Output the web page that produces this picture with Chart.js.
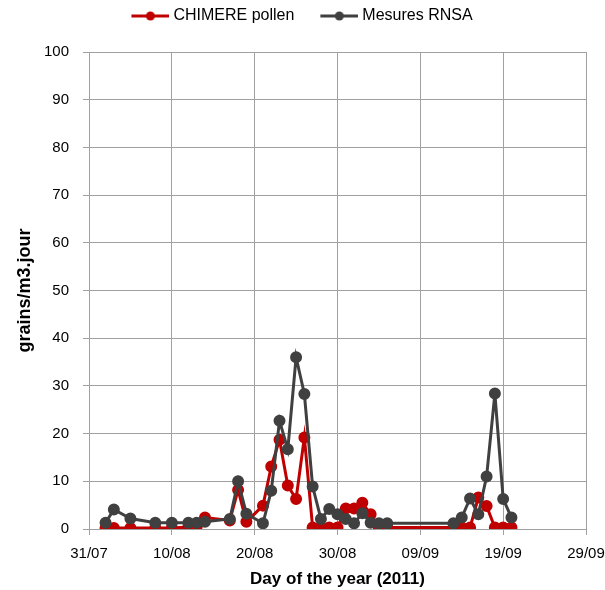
<!DOCTYPE html>
<html>
<head>
<meta charset="utf-8">
<script src="https://cdn.jsdelivr.net/npm/chart.js@4.4.1/dist/chart.umd.min.js"></script>
<style>
	html, body { margin: 0; padding: 0; background: #fff; overflow: hidden; }
	#wrap { width: 605px; height: 590px; }
</style>
</head>
<body>
<div id="wrap"><canvas id="pollenChart" width="605" height="590"></canvas></div>
<script>
// day 0 = 31/07/2011
const days = [2, 3, 5, 8, 10, 12, 13, 14, 17, 18, 19, 21, 22, 23, 24, 25, 26, 27, 28, 29, 30, 31, 32, 33, 34, 35, 36, 44, 45, 46, 47, 48, 49, 50, 51];
const chimereValues = [0.2, 0.2, 0.2, 0.2, 0.2, 0.4, 0.5, 2.4, 1.8, 8.2, 1.5, 4.9, 13.1, 18.7, 9.1, 6.3, 19.2, 0.3, 0.3, 0.3, 0.3, 4.3, 4.3, 5.5, 3.1, 0.3, 0.3, 0.3, 0.3, 0.3, 6.6, 4.8, 0.3, 0.3, 0.3];
const rnsaValues = [1.3, 4.1, 2.2, 1.3, 1.3, 1.3, 1.3, 1.5, 2.1, 10.0, 3.2, 1.2, 8.0, 22.7, 16.7, 36.0, 28.3, 8.9, 2.1, 4.2, 3.1, 2.1, 1.2, 3.3, 1.3, 1.2, 1.2, 1.2, 2.4, 6.4, 3.1, 11.0, 28.4, 6.3, 2.4];
const xTickLabels = ['31/07', '10/08', '20/08', '30/08', '09/09', '19/09', '29/09'];

const RED = '#c00000';
const GREY = '#404040';
const FONT = 'Liberation Sans';

function toPoints(values) {
	return values.map((v, i) => ({ x: days[i], y: v }));
}

// legend icon: a short line with a dot in the middle (blank space on the left)
function makeIcon(color) {
	const c = document.createElement('canvas');
	c.width = 60;
	c.height = 12;
	const g = c.getContext('2d');
	g.strokeStyle = color;
	g.lineWidth = 3;
	g.beginPath();
	g.moveTo(22, 6);
	g.lineTo(60, 6);
	g.stroke();
	g.fillStyle = color;
	g.beginPath();
	g.arc(41, 6, 4.5, 0, Math.PI * 2);
	g.fill();
	return c;
}

// give the legend a fixed height so the plot starts where it should
const legendHeight = {
	id: 'legendHeight',
	beforeInit(chart) {
		const legend = chart.legend;
		if (!legend) return;
		const fit = legend.fit.bind(legend);
		legend.fit = function () {
			fit();
			this.height = 52;
		};
	}
};

const ctx = document.getElementById('pollenChart').getContext('2d');

new Chart(ctx, {
	type: 'line',
	data: {
		datasets: [
			{
				label: 'CHIMERE pollen',
				data: toPoints(chimereValues),
				borderColor: RED,
				backgroundColor: RED,
				pointBackgroundColor: RED,
				pointBorderColor: RED,
				borderWidth: 3,
				pointRadius: 4.5,
				order: 1
			},
			{
				label: 'Mesures RNSA',
				data: toPoints(rnsaValues),
				borderColor: GREY,
				backgroundColor: GREY,
				pointBackgroundColor: GREY,
				pointBorderColor: GREY,
				borderWidth: 3,
				pointRadius: 4.5,
				order: 0
			}
		]
	},
	plugins: [legendHeight],
	options: {
		responsive: false,
		animation: false,
		layout: { padding: { top: 0, right: 19, bottom: 0, left: 0 } },
		plugins: {
			tooltip: { enabled: false },
			legend: {
				position: 'top',
				labels: {
					usePointStyle: true,
					pointStyleWidth: 52,
					padding: 8,
					color: '#000',
					font: { family: FONT, size: 16 },
					generateLabels: chart => chart.data.datasets.map((ds, i) => ({
						text: ds.label,
						fillStyle: ds.borderColor,
						strokeStyle: ds.borderColor,
						fontColor: '#000',
						lineWidth: 0,
						pointStyle: makeIcon(ds.borderColor),
						hidden: false,
						datasetIndex: i
					}))
				}
			}
		},
		scales: {
			x: {
				type: 'linear',
				min: 0,
				max: 60,
				afterFit: scale => {
					scale.height = 61;
					scale.paddingRight = 0;
					scale.paddingLeft = 0;
				},
				ticks: {
					stepSize: 10,
					autoSkip: false,
					maxRotation: 0,
					padding: 10,
					color: '#000',
					font: { family: FONT, size: 15 },
					callback: (value, index) => xTickLabels[index]
				},
				grid: { color: '#a0a0a0', lineWidth: 1, tickLength: 6 },
				border: { color: '#a0a0a0' },
				title: {
					display: true,
					text: 'Day of the year (2011)',
					color: '#000',
					font: { family: FONT, size: 17, weight: 'bold' },
					padding: { top: 0, bottom: 0 }
				}
			},
			y: {
				min: 0,
				max: 100,
				afterFit: scale => { scale.width = 89; },
				ticks: {
					stepSize: 10,
					padding: 14,
					color: '#000',
					font: { family: FONT, size: 15 }
				},
				grid: { color: '#a0a0a0', lineWidth: 1, tickLength: 6 },
				border: { color: '#a0a0a0' },
				title: {
					display: true,
					text: 'grains/m3.jour',
					color: '#000',
					font: { family: FONT, size: 18, weight: 'bold' },
					padding: { top: 14, bottom: 0 }
				}
			}
		}
	}
});
</script>
</body>
</html>
